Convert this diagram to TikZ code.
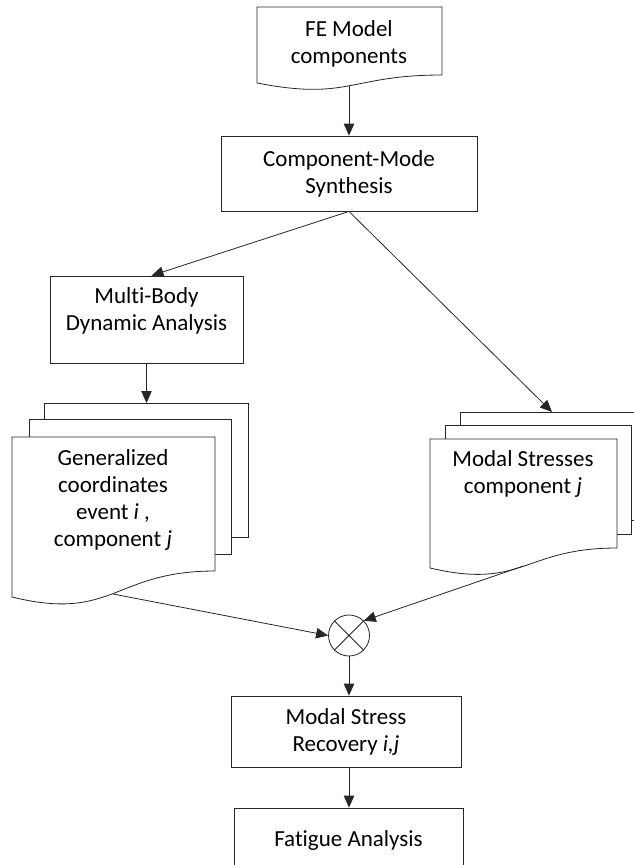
\documentclass[tikz,border=0pt]{standalone}
\usepackage{fontspec}
\setmainfont{Carlito}[Ligatures=NoCommon]
\usepackage{tikz}
\usetikzlibrary{calc}
\usetikzlibrary{arrows.meta}

% a page with a wavy lower edge: left, top, right, right end, left end, control depth
\newcommand{\docpage}[6]{%
  \filldraw[page] (#1,#2) -- (#3,#2) -- (#3,#4)
    .. controls ({(#1+#3)/2},#4) and ({(#1+#3)/2},#6) .. (#1,#5) -- cycle;}

\tikzset{
  page/.style={draw=black!85, fill=white, line width=0.8pt},
  flowbox/.style={draw=black!85, fill=white, line width=0.8pt, align=center,
    font=\fontsize{23}{27}\selectfont, inner sep=0pt},
  label/.style={align=center, font=\fontsize{23}{27}\selectfont, inner sep=0pt},
  arr/.style={draw=black!85, line width=0.8pt, -{Triangle[length=12pt,width=10.5pt]}}
}

\begin{document}
\begin{tikzpicture}[x=1pt,y=-1pt]
	\useasboundingbox (0,0) rectangle (634,865);
	\clip (0,0) rectangle (634,865);
	
	% input document
	\docpage{257}{7}{442}{75}{83}{101}
	\node[label] (fetext) at (349,44) {FE Model\\components};
	\coordinate (fe) at (349,86);
	
	\node[flowbox, minimum width=256pt, minimum height=75pt] (cms) at (349,173.5) {Component-Mode\\Synthesis};
	\node[flowbox, minimum width=193pt, minimum height=87pt] (mb) at (146.5,319.5) {};
	\node[label] (mbtext) at (146.5,311) {Multi-Body\\Dynamic Analysis};
	
	% stack left
	\filldraw[page] (44,403) rectangle (248,537);
	\filldraw[page] (29,419) rectangle (231,554);
	\docpage{12}{437}{215}{571}{597}{622}
	\node[label] (gen) at (113,500) {Generalized\\coordinates\\event \textit{i} ,\\component \textit{j}};
	\coordinate (ltop) at (146.5,403);
	\coordinate (lbot) at (113,594);
	
	% stack right
	\filldraw[page] (460,412) rectangle (645,520);
	\filldraw[page] (445,425) rectangle (631,534);
	\docpage{430}{439}{617}{548}{568}{590}
	\node[label] (modal) at (523,474) {Modal Stresses\\component \textit{j}};
	\coordinate (rtop) at (552,412);
	\coordinate (rbot) at (523.5,566);
	
	% product
	\node[draw=black!85, line width=0.8pt, circle, minimum size=41pt, inner sep=0pt] (mult) at (349,635.5) {};
	\draw[line width=0.8pt, black!85] (mult.45) -- (mult.225) (mult.135) -- (mult.315);
	
	\node[flowbox, minimum width=230pt, minimum height=71pt] (msr) at (346,731.5) {Modal Stress\\Recovery \textit{i,j}};
	\node[flowbox, minimum width=229pt, minimum height=64pt] (fat) at (348.5,840) {Fatigue Analysis};
	
	\draw[arr] (fe) -- (cms.north);
	\draw[arr] (cms.south) -- ([xshift=5pt]mb.north);
	\draw[arr] (cms.south) -- (rtop);
	\draw[arr] (mb.south) -- (ltop);
	\draw[arr] (lbot) -- (mult.west);
	\draw[arr] (rbot) -- (mult.north east);
	\draw[arr] (mult.south) -- (mult.south |- msr.north);
	\draw[arr] (mult.south |- msr.south) -- (mult.south |- fat.north);
\end{tikzpicture}
\end{document}
